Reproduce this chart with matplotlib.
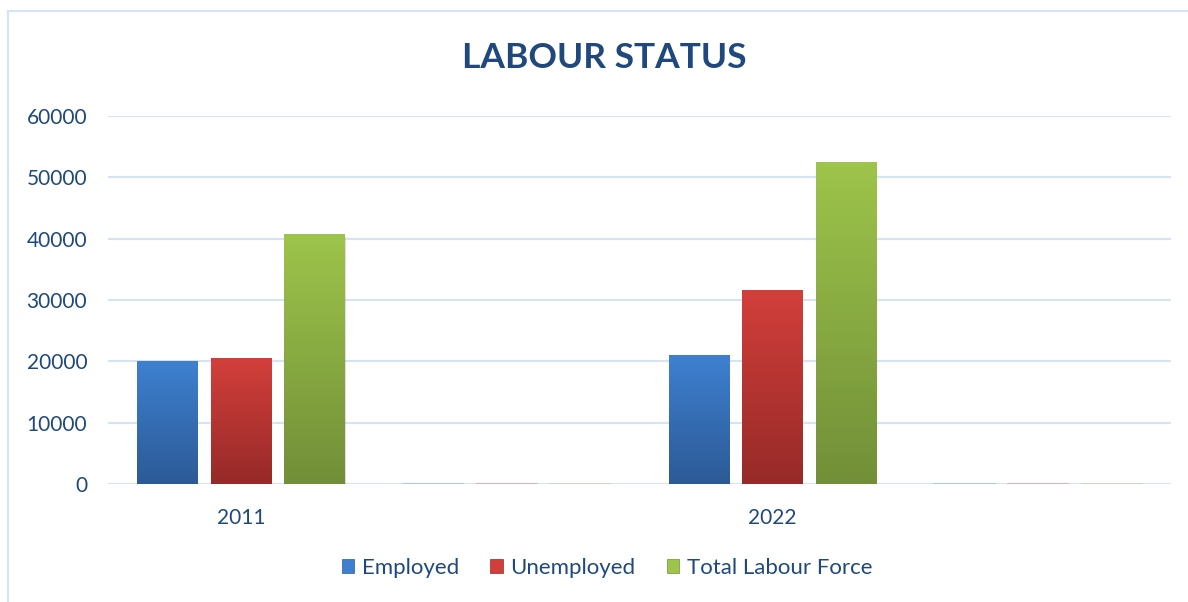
import numpy as np
import matplotlib.pyplot as plt
from matplotlib.colors import LinearSegmentedColormap
from matplotlib.patches import Rectangle

categories = ['2011', '', '2022', '']
series = ['Employed', 'Unemployed', 'Total Labour Force']
employed = [20000, 0, 20900, 0]
unemployed = [20500, 0, 31600, 0]
total = [40600, 0, 52500, 0]
values = [employed, unemployed, total]

# (top colour, bottom colour) for each series
grads = [('#3e80d0', '#2c5a96'), ('#d23f3b', '#962a28'), ('#9dc44b', '#728f38')]
text_col = '#1f497d'
grid_col = '#d6e3f3'

plt.rcParams['font.family'] = ['Lato', 'DejaVu Sans']

fig = plt.figure(figsize=(11.88, 6.02), dpi=100)
ax = fig.add_axes([108 / 1188, 1 - 484 / 602, (1171 - 108) / 1188, 368 / 602])

# chart frame
fig.patches.append(Rectangle((8 / 1188, -0.05), 1.2, 1 - 11 / 602 + 0.05,
                             transform=fig.transFigure, fill=False,
                             edgecolor=grid_col, linewidth=1.5))

x = np.arange(len(categories))
w = 0.226
step = 0.277
grad = np.linspace(1, 0, 100).reshape(-1, 1)

handles = []
for i, (name, vals) in enumerate(zip(series, values)):
    top, bot = grads[i]
    cmap = LinearSegmentedColormap.from_list(name, [bot, top])
    xs = x + (i - 1) * step
    for xi, v in zip(xs, vals):
        if v > 0:
            # soft shadow
            ax.add_patch(Rectangle((xi - w / 2 + 0.004, -350), w, v,
                                   facecolor='#000000', alpha=0.12,
                                   edgecolor='none', zorder=2))
            ax.imshow(grad, cmap=cmap, aspect='auto', zorder=3,
                      extent=(xi - w / 2, xi + w / 2, 0, v), vmin=0, vmax=1)
        else:
            ax.plot([xi - w / 2, xi + w / 2], [0, 0], color=top, alpha=0.35,
                    lw=1.2, zorder=3)
    handles.append(Rectangle((0, 0), 1, 1, facecolor=top, edgecolor=bot,
                             lw=0.5, label=name))

ax.set_xlim(-0.5, len(categories) - 0.5)
ax.set_ylim(0, 60000)
ax.set_yticks(np.arange(0, 60001, 10000))
ax.set_xticks(x)
ax.set_xticklabels(categories)
ax.yaxis.grid(True, color=grid_col, lw=1.5, zorder=0)
ax.set_axisbelow(True)
for s in ax.spines.values():
    s.set_visible(False)
ax.tick_params(length=0, colors=text_col, labelsize=15)
ax.tick_params(axis='y', pad=15)
ax.tick_params(axis='x', pad=17)

fig.text(604 / 1188, 1 - 58 / 602, 'LABOUR STATUS', ha='center', va='center',
         fontsize=25.5, fontweight='bold', color=text_col)

leg = fig.legend(handles=handles, loc='center',
                 bbox_to_anchor=(607 / 1188, 1 - 568 / 602),
                 ncol=3, frameon=False, fontsize=16, handlelength=0.55,
                 handleheight=0.55, handletextpad=0.35, columnspacing=1.4)
for t in leg.get_texts():
    t.set_color(text_col)

fig.savefig('out.png', dpi=100)
